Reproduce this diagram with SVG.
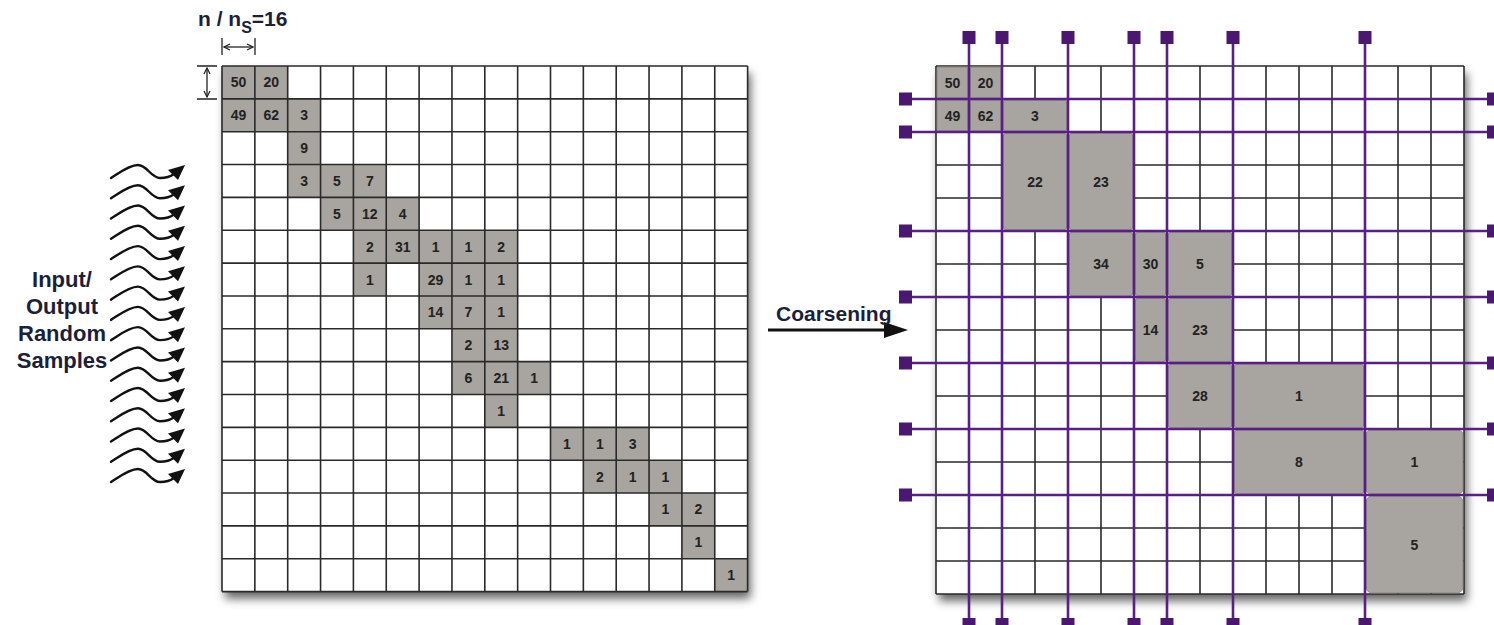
<svg xmlns="http://www.w3.org/2000/svg" xmlns:xlink="http://www.w3.org/1999/xlink" width="1494" height="625" viewBox="0 0 1494 625">
<style>
text{font-family:"Liberation Sans",Arial,sans-serif;font-weight:bold;}
.num{font-size:14px;fill:#222;text-anchor:middle;dominant-baseline:central;}
.lbl{fill:#1b1f3a;}
.gc{fill:#a8a49f;}
.grid{fill:none;stroke:#2a2a2a;stroke-width:1.6;}
.blk{fill:#a8a49f;stroke:#857f78;stroke-width:0.8;}
.pl{stroke:#5a1f86;stroke-width:2.6;fill:none;}
.sq{fill:#4a1870;}
.wave{fill:none;stroke:#111;stroke-width:2.4;stroke-linecap:round;}
.dim{fill:none;stroke:#222;stroke-width:1.3;}
</style>
<defs>
<filter id="sh" x="-5%" y="-5%" width="115%" height="115%">
<feDropShadow dx="3" dy="7" stdDeviation="5" flood-color="#000" flood-opacity="0.6"/>
</filter>
<marker id="dimhead" markerWidth="8" markerHeight="8" refX="7" refY="4" orient="auto-start-reverse" markerUnits="userSpaceOnUse">
<path d="M1,1 L7,4 L1,7" fill="none" stroke="#222" stroke-width="1.2"/>
</marker>
<g id="wv">
<path class="wave" d="M0,0 C8,-5 18,-13 27,-13 C36,-13 40,0 49,0 C55,0 59,-1 63,-4"/>
<polygon points="74,-13 57,-8 67,2" fill="#111"/>
</g>
</defs>

<!-- Left fine grid -->
<g id="left-grid">
<rect x="222" y="66" width="525.6" height="525.6" fill="#fff" filter="url(#sh)"/>
<g class="gc">
<rect x="222" y="66" width="32.85" height="32.85"/>
<rect x="254.85" y="66" width="32.85" height="32.85"/>
<rect x="222" y="98.85" width="32.85" height="32.85"/>
<rect x="254.85" y="98.85" width="32.85" height="32.85"/>
<rect x="287.7" y="98.85" width="32.85" height="32.85"/>
<rect x="287.7" y="131.7" width="32.85" height="32.85"/>
<rect x="287.7" y="164.55" width="32.85" height="32.85"/>
<rect x="320.55" y="164.55" width="32.85" height="32.85"/>
<rect x="353.4" y="164.55" width="32.85" height="32.85"/>
<rect x="320.55" y="197.4" width="32.85" height="32.85"/>
<rect x="353.4" y="197.4" width="32.85" height="32.85"/>
<rect x="386.25" y="197.4" width="32.85" height="32.85"/>
<rect x="353.4" y="230.25" width="32.85" height="32.85"/>
<rect x="386.25" y="230.25" width="32.85" height="32.85"/>
<rect x="419.1" y="230.25" width="32.85" height="32.85"/>
<rect x="451.95" y="230.25" width="32.85" height="32.85"/>
<rect x="484.8" y="230.25" width="32.85" height="32.85"/>
<rect x="353.4" y="263.1" width="32.85" height="32.85"/>
<rect x="419.1" y="263.1" width="32.85" height="32.85"/>
<rect x="451.95" y="263.1" width="32.85" height="32.85"/>
<rect x="484.8" y="263.1" width="32.85" height="32.85"/>
<rect x="419.1" y="295.95" width="32.85" height="32.85"/>
<rect x="451.95" y="295.95" width="32.85" height="32.85"/>
<rect x="484.8" y="295.95" width="32.85" height="32.85"/>
<rect x="451.95" y="328.8" width="32.85" height="32.85"/>
<rect x="484.8" y="328.8" width="32.85" height="32.85"/>
<rect x="451.95" y="361.65" width="32.85" height="32.85"/>
<rect x="484.8" y="361.65" width="32.85" height="32.85"/>
<rect x="517.65" y="361.65" width="32.85" height="32.85"/>
<rect x="484.8" y="394.5" width="32.85" height="32.85"/>
<rect x="550.5" y="427.35" width="32.85" height="32.85"/>
<rect x="583.35" y="427.35" width="32.85" height="32.85"/>
<rect x="616.2" y="427.35" width="32.85" height="32.85"/>
<rect x="583.35" y="460.2" width="32.85" height="32.85"/>
<rect x="616.2" y="460.2" width="32.85" height="32.85"/>
<rect x="649.05" y="460.2" width="32.85" height="32.85"/>
<rect x="649.05" y="493.05" width="32.85" height="32.85"/>
<rect x="681.9" y="493.05" width="32.85" height="32.85"/>
<rect x="681.9" y="525.9" width="32.85" height="32.85"/>
<rect x="714.75" y="558.75" width="32.85" height="32.85"/>
</g>
<path class="grid" d="M222,66H747.6M222,98.85H747.6M222,131.7H747.6M222,164.55H747.6M222,197.4H747.6M222,230.25H747.6M222,263.1H747.6M222,295.95H747.6M222,328.8H747.6M222,361.65H747.6M222,394.5H747.6M222,427.35H747.6M222,460.2H747.6M222,493.05H747.6M222,525.9H747.6M222,558.75H747.6M222,591.6H747.6
M222,66V591.6M254.85,66V591.6M287.7,66V591.6M320.55,66V591.6M353.4,66V591.6M386.25,66V591.6M419.1,66V591.6M451.95,66V591.6M484.8,66V591.6M517.65,66V591.6M550.5,66V591.6M583.35,66V591.6M616.2,66V591.6M649.05,66V591.6M681.9,66V591.6M714.75,66V591.6M747.6,66V591.6"/>
<g>
<text class="num" x="238.43" y="82.43">50</text>
<text class="num" x="271.28" y="82.43">20</text>
<text class="num" x="238.43" y="115.28">49</text>
<text class="num" x="271.28" y="115.28">62</text>
<text class="num" x="304.13" y="115.28">3</text>
<text class="num" x="304.13" y="148.13">9</text>
<text class="num" x="304.13" y="180.98">3</text>
<text class="num" x="336.98" y="180.98">5</text>
<text class="num" x="369.83" y="180.98">7</text>
<text class="num" x="336.98" y="213.83">5</text>
<text class="num" x="369.83" y="213.83">12</text>
<text class="num" x="402.68" y="213.83">4</text>
<text class="num" x="369.83" y="246.68">2</text>
<text class="num" x="402.68" y="246.68">31</text>
<text class="num" x="435.53" y="246.68">1</text>
<text class="num" x="468.38" y="246.68">1</text>
<text class="num" x="501.23" y="246.68">2</text>
<text class="num" x="369.83" y="279.53">1</text>
<text class="num" x="435.53" y="279.53">29</text>
<text class="num" x="468.38" y="279.53">1</text>
<text class="num" x="501.23" y="279.53">1</text>
<text class="num" x="435.53" y="312.38">14</text>
<text class="num" x="468.38" y="312.38">7</text>
<text class="num" x="501.23" y="312.38">1</text>
<text class="num" x="468.38" y="345.23">2</text>
<text class="num" x="501.23" y="345.23">13</text>
<text class="num" x="468.38" y="378.08">6</text>
<text class="num" x="501.23" y="378.08">21</text>
<text class="num" x="534.08" y="378.08">1</text>
<text class="num" x="501.23" y="410.93">1</text>
<text class="num" x="566.93" y="443.78">1</text>
<text class="num" x="599.78" y="443.78">1</text>
<text class="num" x="632.63" y="443.78">3</text>
<text class="num" x="599.78" y="476.63">2</text>
<text class="num" x="632.63" y="476.63">1</text>
<text class="num" x="665.48" y="476.63">1</text>
<text class="num" x="665.48" y="509.48">1</text>
<text class="num" x="698.33" y="509.48">2</text>
<text class="num" x="698.33" y="542.33">1</text>
<text class="num" x="731.18" y="575.18">1</text>
</g>
</g>

<!-- dimension annotations -->
<g id="dimension">
<text class="lbl" x="198" y="26" font-size="21">n / n<tspan dy="7" font-size="16">S</tspan><tspan dy="-7">=16</tspan></text>
<path class="dim" d="M222,38V55M255,38V55M197,66H217M197,99H217"/>
<path class="dim" d="M224,47H253" marker-start="url(#dimhead)" marker-end="url(#dimhead)"/>
<path class="dim" d="M207,68V97" marker-start="url(#dimhead)" marker-end="url(#dimhead)"/>
</g>

<!-- input label -->
<g id="io-label">
<text class="lbl" font-size="22" text-anchor="middle" x="62" y="287">Input/</text>
<text class="lbl" font-size="22" text-anchor="middle" x="62" y="314">Output</text>
<text class="lbl" font-size="22" text-anchor="middle" x="62" y="341">Random</text>
<text class="lbl" font-size="22" text-anchor="middle" x="62" y="368">Samples</text>
</g>

<!-- connectors -->
<g id="connectors">
<use xlink:href="#wv" href="#wv" transform="translate(111,178)"/>
<use xlink:href="#wv" href="#wv" transform="translate(111,198.27)"/>
<use xlink:href="#wv" href="#wv" transform="translate(111,218.54)"/>
<use xlink:href="#wv" href="#wv" transform="translate(111,238.81)"/>
<use xlink:href="#wv" href="#wv" transform="translate(111,259.08)"/>
<use xlink:href="#wv" href="#wv" transform="translate(111,279.35)"/>
<use xlink:href="#wv" href="#wv" transform="translate(111,299.62)"/>
<use xlink:href="#wv" href="#wv" transform="translate(111,319.89)"/>
<use xlink:href="#wv" href="#wv" transform="translate(111,340.16)"/>
<use xlink:href="#wv" href="#wv" transform="translate(111,360.43)"/>
<use xlink:href="#wv" href="#wv" transform="translate(111,380.7)"/>
<use xlink:href="#wv" href="#wv" transform="translate(111,400.97)"/>
<use xlink:href="#wv" href="#wv" transform="translate(111,421.24)"/>
<use xlink:href="#wv" href="#wv" transform="translate(111,441.51)"/>
<use xlink:href="#wv" href="#wv" transform="translate(111,461.78)"/>
<use xlink:href="#wv" href="#wv" transform="translate(111,482.05)"/>
<path d="M768,330H886" stroke="#111" stroke-width="3" fill="none"/>
<polygon points="884,322 908,330 884,338" fill="#111"/>
<text class="lbl" font-size="21" x="776" y="321">Coarsening</text>
</g>

<!-- Right coarse grid -->
<g id="right-grid">
<rect x="936" y="66" width="528" height="528" fill="#fff" filter="url(#sh)"/>
<path class="grid" d="M936,66H1464M936,99H1464M936,132H1464M936,165H1464M936,198H1464M936,231H1464M936,264H1464M936,297H1464M936,330H1464M936,363H1464M936,396H1464M936,429H1464M936,462H1464M936,495H1464M936,528H1464M936,561H1464M936,594H1464
M936,66V594M969,66V594M1002,66V594M1035,66V594M1068,66V594M1101,66V594M1134,66V594M1167,66V594M1200,66V594M1233,66V594M1266,66V594M1299,66V594M1332,66V594M1365,66V594M1398,66V594M1431,66V594M1464,66V594"/>
<g>
<rect class="blk" x="937" y="67" width="31" height="31" rx="2"/>
<rect class="blk" x="970" y="67" width="31" height="31" rx="2"/>
<rect class="blk" x="937" y="100" width="31" height="31" rx="2"/>
<rect class="blk" x="970" y="100" width="31" height="31" rx="2"/>
<rect class="blk" x="1003" y="100" width="64" height="31" rx="3"/>
<rect class="blk" x="1003" y="133" width="64" height="97" rx="4"/>
<rect class="blk" x="1069" y="133" width="64" height="97" rx="4"/>
<rect class="blk" x="1069" y="232" width="64" height="64" rx="4"/>
<rect class="blk" x="1135" y="232" width="31" height="64" rx="4"/>
<rect class="blk" x="1168" y="232" width="64" height="64" rx="4"/>
<rect class="blk" x="1135" y="298" width="31" height="64" rx="4"/>
<rect class="blk" x="1168" y="298" width="64" height="64" rx="4"/>
<rect class="blk" x="1168" y="364" width="64" height="64" rx="4"/>
<rect class="blk" x="1234" y="364" width="130" height="64" rx="4"/>
<rect class="blk" x="1234" y="430" width="130" height="64" rx="4"/>
<rect class="blk" x="1366" y="430" width="97" height="64" rx="5"/>
<rect class="blk" x="1366" y="496" width="97" height="97" rx="6"/>
</g>
<g>
<text class="num" x="952.5" y="82.5">50</text>
<text class="num" x="985.5" y="82.5">20</text>
<text class="num" x="952.5" y="115.5">49</text>
<text class="num" x="985.5" y="115.5">62</text>
<text class="num" x="1035" y="115.5">3</text>
<text class="num" x="1035" y="181.5">22</text>
<text class="num" x="1101" y="181.5">23</text>
<text class="num" x="1101" y="264">34</text>
<text class="num" x="1150.5" y="264">30</text>
<text class="num" x="1200" y="264">5</text>
<text class="num" x="1150.5" y="330">14</text>
<text class="num" x="1200" y="330">23</text>
<text class="num" x="1200" y="396">28</text>
<text class="num" x="1299" y="396">1</text>
<text class="num" x="1299" y="462">8</text>
<text class="num" x="1414.5" y="462">1</text>
<text class="num" x="1414.5" y="544.5">5</text>
</g>
</g>

<!-- partition lines -->
<g id="partition-lines">
<path class="pl" d="M969,44V618M1002,44V618M1068,44V618M1134,44V618M1167,44V618M1233,44V618M1365,44V618
M912,99H1487M912,132H1487M912,231H1487M912,297H1487M912,363H1487M912,429H1487M912,495H1487"/>
<g class="sq">
<rect x="962.5" y="31" width="13" height="13"/>
<rect x="995.5" y="31" width="13" height="13"/>
<rect x="1061.5" y="31" width="13" height="13"/>
<rect x="1127.5" y="31" width="13" height="13"/>
<rect x="1160.5" y="31" width="13" height="13"/>
<rect x="1226.5" y="31" width="13" height="13"/>
<rect x="1358.5" y="31" width="13" height="13"/>
<rect x="962.5" y="618" width="13" height="13"/>
<rect x="995.5" y="618" width="13" height="13"/>
<rect x="1061.5" y="618" width="13" height="13"/>
<rect x="1127.5" y="618" width="13" height="13"/>
<rect x="1160.5" y="618" width="13" height="13"/>
<rect x="1226.5" y="618" width="13" height="13"/>
<rect x="1358.5" y="618" width="13" height="13"/>
<rect x="899" y="92.5" width="13" height="13"/>
<rect x="899" y="125.5" width="13" height="13"/>
<rect x="899" y="224.5" width="13" height="13"/>
<rect x="899" y="290.5" width="13" height="13"/>
<rect x="899" y="356.5" width="13" height="13"/>
<rect x="899" y="422.5" width="13" height="13"/>
<rect x="899" y="488.5" width="13" height="13"/>
<rect x="1487" y="92.5" width="13" height="13"/>
<rect x="1487" y="125.5" width="13" height="13"/>
<rect x="1487" y="224.5" width="13" height="13"/>
<rect x="1487" y="290.5" width="13" height="13"/>
<rect x="1487" y="356.5" width="13" height="13"/>
<rect x="1487" y="422.5" width="13" height="13"/>
<rect x="1487" y="488.5" width="13" height="13"/>
</g>
</g>
</svg>
